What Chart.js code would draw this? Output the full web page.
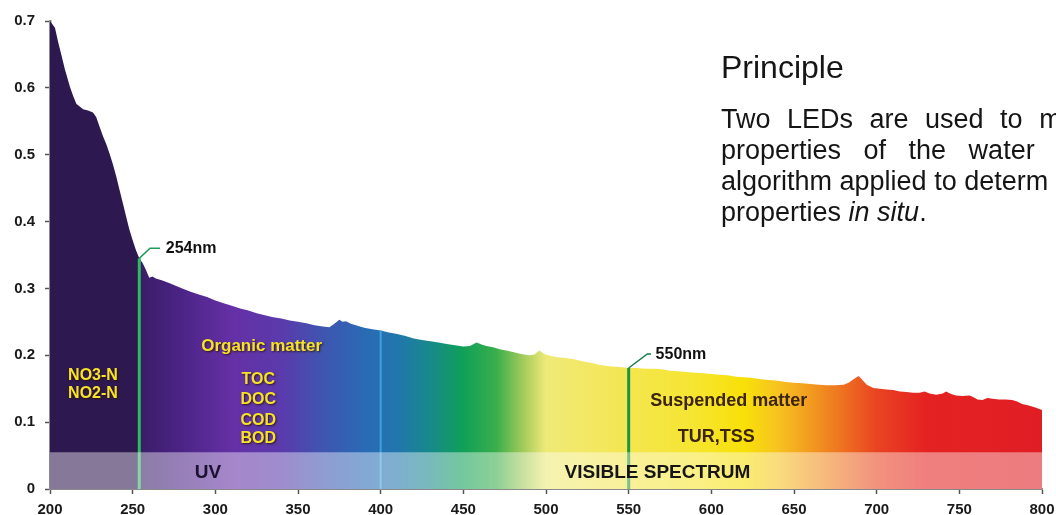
<!DOCTYPE html>
<html>
<head>
<meta charset="utf-8">
<script src="https://cdn.jsdelivr.net/npm/chart.js@4.4.0/dist/chart.umd.min.js"></script>
<style>
html, body { margin: 0; padding: 0; width: 1056px; height: 515px; overflow: hidden; background: #fff; }
#wrap { position: relative; width: 1056px; height: 515px; }
#c { position: absolute; left: 0; top: 0; }
.txt { position: absolute; left: 721px; font-family: "Liberation Sans", Arial, sans-serif; color: #151515; white-space: nowrap; }
.head { top: 51px; font-size: 32px; line-height: 32px; }
.body { font-size: 27px; line-height: 27px; }
</style>
</head>
<body>
<div id="wrap">
  <canvas id="c" width="1056" height="515"></canvas>
  <div class="txt head">Principle</div>
  <div class="txt body" style="top:106px; word-spacing:9px;">Two LEDs are used to m</div>
  <div class="txt body" style="top:137px; word-spacing:15px;">properties of the water</div>
  <div class="txt body" style="top:168px;">algorithm applied to determ</div>
  <div class="txt body" style="top:199px;">properties <i>in situ</i>.</div>
</div>
<script>

// absorbance spectrum (nm, absorbance)
var wavelengths = [200, 203, 205, 207, 209, 212, 214, 216, 218, 220, 223, 226, 228, 230, 232, 234, 236, 238, 240, 242,
    244, 246, 248, 250, 252, 254, 256, 258, 260, 262, 264, 268, 272, 276, 280, 285, 290, 295, 300, 305,
    310, 315, 320, 325, 330, 335, 340, 345, 350, 355, 360, 365, 369, 372, 375, 377, 379, 382, 386, 390,
    395, 400, 405, 410, 415, 420, 425, 430, 435, 440, 445, 450, 454, 458, 461, 464, 468, 472, 476, 480,
    485, 490, 493, 496, 499, 503, 507, 512, 517, 522, 527, 532, 537, 542, 546, 550, 555, 560, 565, 570,
    575, 580, 585, 590, 595, 600, 605, 610, 615, 620, 625, 630, 635, 640, 645, 650, 655, 660, 665, 670,
    675, 680, 683, 686, 689, 691, 694, 698, 702, 706, 710, 714, 718, 722, 726, 729, 732, 736, 740, 742,
    745, 748, 752, 756, 758, 761, 764, 767, 770, 774, 778, 782, 785, 788, 792, 796, 800];

var absorbance = [0.700, 0.690, 0.668, 0.648, 0.628, 0.602, 0.588, 0.576, 0.572, 0.568, 0.566, 0.563, 0.556, 0.542, 0.528, 0.516, 0.502, 0.486, 0.468, 0.448,
    0.428, 0.408, 0.388, 0.372, 0.357, 0.345, 0.338, 0.328, 0.316, 0.318, 0.315, 0.312, 0.308, 0.304, 0.300, 0.295, 0.291, 0.287, 0.282, 0.278,
    0.274, 0.270, 0.267, 0.263, 0.260, 0.257, 0.255, 0.252, 0.250, 0.248, 0.245, 0.243, 0.242, 0.247, 0.253, 0.250, 0.251, 0.247, 0.244, 0.241,
    0.239, 0.237, 0.234, 0.232, 0.229, 0.225, 0.223, 0.221, 0.219, 0.217, 0.215, 0.213, 0.214, 0.219, 0.216, 0.214, 0.212, 0.209, 0.207, 0.205,
    0.202, 0.200, 0.201, 0.207, 0.202, 0.199, 0.197, 0.196, 0.194, 0.191, 0.189, 0.186, 0.184, 0.183, 0.182, 0.181, 0.181, 0.180, 0.180, 0.179,
    0.177, 0.176, 0.175, 0.174, 0.173, 0.172, 0.171, 0.170, 0.168, 0.167, 0.166, 0.164, 0.163, 0.162, 0.160, 0.159, 0.158, 0.157, 0.156, 0.155,
    0.155, 0.156, 0.159, 0.164, 0.169, 0.164, 0.156, 0.151, 0.150, 0.149, 0.148, 0.146, 0.145, 0.144, 0.144, 0.146, 0.143, 0.141, 0.143, 0.146,
    0.142, 0.140, 0.139, 0.140, 0.138, 0.134, 0.133, 0.136, 0.135, 0.134, 0.134, 0.133, 0.131, 0.127, 0.125, 0.122, 0.118];

// marker lines (nm) and where they meet the curve
var markerNm = [254, 400, 550];
var markerTop = [0.345, 0.237, 0.181];

// height of the UV / visible band
var bandTop = 0.055;

// spectrum colours along the wavelength axis
var spectrumStops = [
    [200, '#2e1850'], [253.8, '#2e1850'], [254.2, '#3a1d68'], [280, '#4c2486'], [310, '#6530a6'],
    [340, '#5a3aac'], [365, '#3f55b0'], [390, '#2a6ab5'], [410, '#2276ae'], [430, '#17898a'],
    [450, '#10a058'], [470, '#3aae4c'], [485, '#9cc85a'], [500, '#eeea78'], [520, '#f2e868'],
    [550, '#f4e650'], [590, '#f6e530'], [620, '#f8e008'], [640, '#f7c420'], [660, '#f29a20'],
    [680, '#ee7020'], [700, '#e94422'], [730, '#e52222'], [800, '#e01d24']
];

var fontFamily = '"Liberation Sans", Arial, sans-serif';

function spectrumFill(context) {
    var chart = context.chart;
    if (!chart.chartArea) return null;
    var xs = chart.scales.x;
    var x0 = xs.getPixelForValue(200), x1 = xs.getPixelForValue(800);
    var g = chart.ctx.createLinearGradient(x0, 0, x1, 0);
    spectrumStops.forEach(function (s) {
        g.addColorStop((s[0] - 200) / 600, s[1]);
    });
    return g;
}

var curve = [];
for (var i = 0; i != wavelengths.length; i++)
    curve.push({ x: wavelengths[i], y: absorbance[i] });

var markerColors = ['#2fbb60', '#3aa2dc', '#1b9444'];
var markerWidths = [3, 2, 3];

var datasets = [];

// band on top of everything
datasets.push({
    data: [{ x: 200, y: bandTop }, { x: 800, y: bandTop }],
    fill: 'origin',
    backgroundColor: 'rgba(255,255,255,0.42)',
    borderWidth: 0,
    pointRadius: 0,
    order: 0
});

for (var j = 0; j != markerNm.length; j++) {
    datasets.push({
        data: [{ x: markerNm[j], y: 0 }, { x: markerNm[j], y: markerTop[j] }],
        fill: false,
        borderColor: markerColors[j],
        borderWidth: markerWidths[j],
        pointRadius: 0,
        order: 1
    });
}

datasets.push({
    data: curve,
    fill: 'origin',
    backgroundColor: spectrumFill,
    borderWidth: 0,
    pointRadius: 0,
    tension: 0,
    order: 2
});

// text drawn on the plot, placed in data units
var yellowLabels = [
    ['NO3-N', 226, 0.170, 16], ['NO2-N', 226, 0.142, 16],
    ['Organic matter', 328, 0.214, 17],
    ['TOC', 326, 0.163, 16], ['DOC', 326, 0.133, 16], ['COD', 326, 0.103, 16], ['BOD', 326, 0.075, 16]
];
var brownLabels = [['Suspended matter', 610.5, 0.132], ['TUR,TSS', 603, 0.077]];

var textPlugin = {
    id: 'texts',
    afterDatasetsDraw: function (chart) {
        var ctx = chart.ctx;
        var xs = chart.scales.x, ys = chart.scales.y;
        function px(v) { return xs.getPixelForValue(v); }
        function py(v) { return ys.getPixelForValue(v); }

        ctx.save();
        ctx.textAlign = 'center';
        ctx.textBaseline = 'middle';

        yellowLabels.forEach(function (l) {
            ctx.font = 'bold ' + l[3] + 'px ' + fontFamily;
            ctx.shadowColor = 'rgba(40,20,0,0.85)';
            ctx.shadowBlur = 2;
            ctx.shadowOffsetX = 1;
            ctx.shadowOffsetY = 1;
            ctx.fillStyle = '#f7e22a';
            ctx.fillText(l[0], px(l[1]), py(l[2]));
        });
        ctx.shadowColor = 'transparent';

        ctx.font = 'bold 18px ' + fontFamily;
        ctx.fillStyle = '#3b2410';
        brownLabels.forEach(function (l) {
            ctx.fillText(l[0], px(l[1]), py(l[2]));
        });

        ctx.font = 'bold 19px ' + fontFamily;
        ctx.fillStyle = '#1b1030';
        ctx.fillText('UV', px(295.6), py(0.024));
        ctx.fillStyle = '#161616';
        ctx.fillText('VISIBLE SPECTRUM', px(567.4), py(0.024));

        // leader lines for the two wavelength tags
        ctx.lineWidth = 1.5;
        ctx.strokeStyle = '#1f9a5a';
        ctx.beginPath();
        ctx.moveTo(px(254), py(0.345));
        ctx.lineTo(px(260.5), py(0.360));
        ctx.lineTo(px(266.5), py(0.360));
        ctx.stroke();

        ctx.strokeStyle = '#1a7a4a';
        ctx.beginPath();
        ctx.moveTo(px(550), py(0.181));
        ctx.lineTo(px(561.3), py(0.202));
        ctx.lineTo(px(563.5), py(0.202));
        ctx.stroke();

        ctx.textAlign = 'left';
        ctx.font = 'bold 16px ' + fontFamily;
        ctx.fillStyle = '#111';
        ctx.fillText('254nm', px(270), py(0.360));
        ctx.fillText('550nm', px(566.3), py(0.201));
        ctx.restore();
    }
};

var config = {
    type: 'line',
    data: { datasets: datasets },
    options: {
        responsive: false,
        animation: false,
        layout: { padding: { top: 21, right: 14, left: 0, bottom: 0 } },
        plugins: { legend: { display: false }, tooltip: { enabled: false } },
        scales: {
            x: {
                type: 'linear',
                min: 200,
                max: 800,
                ticks: { stepSize: 50, color: '#1a1a1a', font: { family: fontFamily, size: 15, weight: 'bold' }, padding: 7, maxRotation: 0 },
                grid: { drawOnChartArea: false, tickLength: 5, tickColor: '#555', tickWidth: 1.5 },
                border: { color: '#8a8a8a', width: 2 },
                afterFit: function (scale) {
                    scale.height = 26;
                    scale.paddingLeft = 0;
                    scale.paddingRight = 0;
                }
            },
            y: {
                min: 0,
                max: 0.7,
                ticks: {
                    stepSize: 0.1, color: '#1a1a1a', font: { family: fontFamily, size: 15, weight: 'bold' }, padding: 10,
                    callback: function (v) { return v === 0 ? '0' : v.toFixed(1); }
                },
                grid: { drawOnChartArea: false, tickLength: 5, tickColor: '#555', tickWidth: 1.5 },
                border: { color: '#8a8a8a', width: 2.5 },
                afterFit: function (scale) {
                    scale.width = 50;
                    scale.paddingTop = 0;
                    scale.paddingBottom = 0;
                }
            }
        }
    },
    plugins: [textPlugin]
};

new Chart(document.getElementById('c'), config);
</script>
</body>
</html>
